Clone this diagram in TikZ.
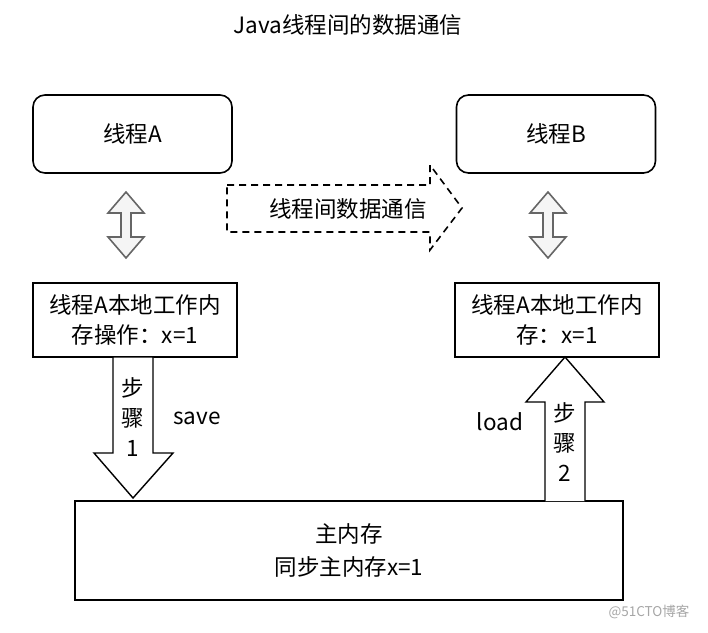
\documentclass[tikz,border=0pt]{standalone}
\usepackage{fontspec}
\setmainfont{Noto Sans CJK SC}
\usetikzlibrary{positioning}
\tikzset{
  thread/.style={
      rectangle,
      rounded corners=12pt,
      minimum width=199pt,
      minimum height=78pt,
      line width=1.6pt,
      draw=black
  },
  localmem/.style={
      rectangle,
      align=center,
      minimum width=204pt,
      minimum height=74pt,
      line width=1.6pt,
      draw=black
  },
  blockarrow/.style={line width=1.4pt,draw=black,fill=white},
  grayarrow/.style={line width=1.6pt,draw=black!60,fill=black!4},
  updown/.pic={
      \path[grayarrow] (0,-33) -- (18,-12) -- (5,-12) -- (5,12) -- (18,12)
        -- (0,33) -- (-18,12) -- (-5,12) -- (-5,-12) -- (-18,-12) -- cycle;
  }
}
\newcommand{\txt}{\fontsize{22.5}{30}\selectfont}

\begin{document}
\begin{tikzpicture}[x=1pt,y=-1pt,font=\txt]
    \useasboundingbox (0,0) rectangle (708,632);
    \node (title) at (348,25) {Java线程间的数据通信};
    % threads
    \node[thread] (thrA) at (132.5,134) {线程A};
    \node[thread] (thrB) at (556,134) {线程B};
    \pic at (126,225) {updown};
    \pic at (548,225) {updown};
    % dashed communication arrow
    \path[line width=1.6pt,draw=black,dash pattern=on 7pt off 5pt] (227,185) -- (430,185) -- (430,165)
      -- (462,208) -- (430,250) -- (430,232) -- (227,232) -- cycle;
    \node (comm) at (348,209) {线程间数据通信};
    % local memory
    \node[localmem] (locA) at (135,320) {线程A本地工作内\\存操作：x=1};
    \node[localmem] (locB) at (557,320) {线程A本地工作内\\存：x=1};
    % main memory
    \node[localmem,minimum width=548pt,minimum height=99pt,
      font=\fontsize{22.5}{33}\selectfont] (mem) at (349,550.5)
      {主内存\\同步主内存x=1};
    % step arrows
    \path[blockarrow] (113,357) -- (153,357) -- (153,453) -- (173,453)
      -- (133,498) -- (94,453) -- (113,453) -- cycle;
    \path[blockarrow] (545,501) -- (545,402) -- (526,402) -- (565,357)
      -- (604,402) -- (585,402) -- (585,501);
    \node[align=center] (step1) at (133,417) {步\\骤\\1};
    \node[align=center] (step2) at (565,442) {步\\骤\\2};
    \node (save) at (197,418) {save};
    \node (load) at (500,422) {load};
    \node[text=black!35,font=\fontsize{13.5}{16}\selectfont] (mark) at (649,612) {@51CTO博客};
  \end{tikzpicture}
\end{document}
